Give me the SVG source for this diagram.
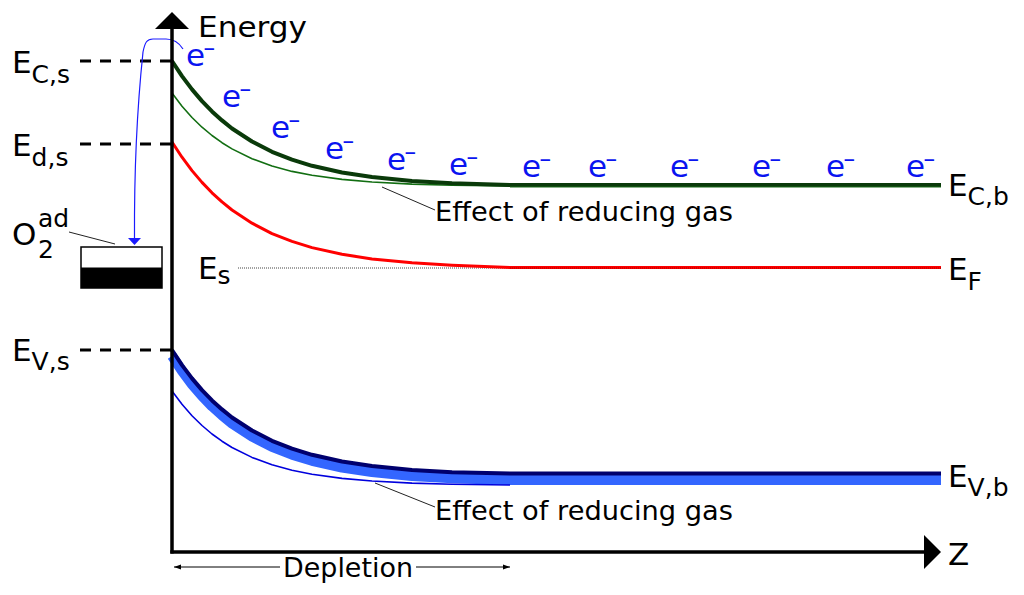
<svg xmlns="http://www.w3.org/2000/svg" width="1024" height="595" viewBox="0 0 1024 595">
<style>
text{font-family:"DejaVu Sans",sans-serif;fill:#000}
.lbl{font-size:31px}
.sub{font-size:25px}
.el{font-size:31px;fill:#0a14f0}
.mi{font-size:15px;font-weight:bold}
.eff{font-size:26.5px}
.dash{stroke:#000;stroke-width:3;stroke-dasharray:11 9;fill:none}
.leader{stroke:#222;stroke-width:1;fill:none}
.curve{fill:none;stroke-linejoin:round;stroke-linecap:butt}
</style>
<defs>
<marker id="sa" markerWidth="8" markerHeight="6" refX="7" refY="3" orient="auto-start-reverse" markerUnits="userSpaceOnUse">
<path d="M0,0.5 L7,3 L0,5.5 Z" fill="#000"/>
</marker>
</defs>
<rect width="1024" height="595" fill="#fff"/>

<g id="bands">
<path id="cb-thin" class="curve" stroke="#126e12" stroke-width="1.6" d="M172,93 L182,106.2 L192,117.5 L202,127.2 L212,135.5 L222,142.7 L232,148.9 L252,158.7 L272,166 L292,171.4 L312,175.3 L342,179.4 L372,182 L412,184.1 L452,185.2 L510,186"/>
<path id="cb" class="curve" stroke="#0a3a0a" stroke-width="4" d="M172,61 L182,76.1 L192,89.4 L202,101.1 L212,111.4 L222,120.4 L232,128.5 L252,141.5 L272,151.8 L292,159.6 L312,165.8 L342,172.5 L372,177 L412,180.9 L452,183.2 L510,185 L941,185"/>
<line x1="510" y1="187" x2="941" y2="187" stroke="#1a6a1a" stroke-width="1"/>
<line id="es-line" x1="238" y1="268" x2="941" y2="268" stroke="#444" stroke-width="1" stroke-dasharray="1 1"/>
<path id="fermi" class="curve" stroke="#ff0000" stroke-width="3" d="M172,142 L182,157.2 L192,170.6 L202,182.4 L212,192.8 L222,201.9 L232,210 L252,223.2 L272,233.6 L292,241.4 L312,247.6 L342,254.3 L372,258.9 L412,262.8 L452,265.2 L510,267.5 L941,267.5"/>
<line x1="510" y1="268" x2="941" y2="268" stroke="#800" stroke-width="0.8" stroke-dasharray="1 1"/>
<path id="vb-band" class="curve" stroke="#3366ff" stroke-width="10" d="M172,356 L182,371.1 L192,384.4 L202,396.1 L212,406.4 L222,415.4 L232,423.5 L252,436.5 L272,446.8 L292,454.6 L312,460.8 L342,467.5 L372,472 L412,475.9 L452,478.2 L510,480 L941,480"/>
<path id="vb" class="curve" stroke="#00006e" stroke-width="4" d="M172,350 L182,365.1 L192,378.4 L202,390.1 L212,400.4 L222,409.4 L232,417.5 L252,430.5 L272,440.8 L292,448.6 L312,454.8 L342,461.5 L372,466 L412,469.9 L452,472.2 L510,473.5 L941,473.5"/>
<path id="vb-thin" class="curve" stroke="#0000dd" stroke-width="1.6" d="M172,391 L182,404.3 L192,415.7 L202,425.5 L212,434 L222,441.2 L232,447.5 L252,457.4 L272,464.8 L292,470.2 L312,474.2 L342,478.4 L372,481 L412,483.1 L452,484.2 L510,485"/>
</g>

<g id="connectors">
<line class="dash" x1="80" y1="61" x2="172" y2="61"/>
<line class="dash" x1="80" y1="144" x2="172" y2="144"/>
<line class="dash" x1="80" y1="350" x2="172" y2="350"/>
<line class="leader" x1="382" y1="187" x2="435" y2="210"/>
<line class="leader" x1="375" y1="483" x2="435" y2="507"/>
<line class="leader" x1="69" y1="232" x2="115" y2="244"/>
<path id="transfer" d="M183,49 C178,41 172,39 166,39 L153,39 C147,39 145,42 143,52 C139,90 134,150 134.5,239" fill="none" stroke="#1a1aff" stroke-width="1.2"/>
<polygon points="128,238 141,238 134.5,245" fill="#1a1aff"/>
<line x1="174" y1="567" x2="280" y2="567" stroke="#000" stroke-width="1" marker-start="url(#sa)"/>
<line x1="416" y1="567" x2="510" y2="567" stroke="#000" stroke-width="1" marker-end="url(#sa)"/>
</g>

<g id="axes">
<line x1="172" y1="553.5" x2="172" y2="27" stroke="#000" stroke-width="3.5"/>
<polygon points="155,29 189,29 172,12" fill="#000"/>
<line x1="170.3" y1="552" x2="926" y2="552" stroke="#000" stroke-width="3.5"/>
<polygon points="924,535 941,552 924,569" fill="#000"/>
<text x="198" y="37" style="font-size:28.5px" textLength="109" lengthAdjust="spacingAndGlyphs">Energy</text>
<text x="948" y="565" class="lbl">Z</text>
</g>

<g id="o2-state">
<rect x="81" y="247" width="81" height="20.5" fill="#fff"/>
<rect x="81" y="267.5" width="81" height="20.5" fill="#000"/>
<rect x="81" y="247" width="81" height="41" fill="none" stroke="#000" stroke-width="1.5"/>
<text x="12" y="245" class="lbl">O</text>
<text x="38" y="227" class="sub">ad</text>
<text x="38" y="258" class="sub">2</text>
</g>

<g id="labels-left">
<text x="12" y="73" class="lbl">E<tspan class="sub" dy="10">C,s</tspan></text>
<text x="12" y="156" class="lbl">E<tspan class="sub" dy="10">d,s</tspan></text>
<text x="12" y="361" class="lbl">E<tspan class="sub" dy="9">V,s</tspan></text>
<text x="198" y="279" class="lbl">E<tspan class="sub" dy="5">s</tspan></text>
</g>

<g id="labels-right">
<text x="948" y="196" class="lbl">E<tspan class="sub" dy="9">C,b</tspan></text>
<text x="948" y="280" class="lbl">E<tspan class="sub" dy="10">F</tspan></text>
<text x="948" y="487" class="lbl">E<tspan class="sub" dy="9">V,b</tspan></text>
</g>

<g id="effect-labels">
<text x="435" y="221" class="eff" textLength="298" lengthAdjust="spacingAndGlyphs">Effect of reducing gas</text>
<text x="435" y="520" class="eff" textLength="298" lengthAdjust="spacingAndGlyphs">Effect of reducing gas</text>
<text x="283" y="577" style="font-size:27px" textLength="130" lengthAdjust="spacingAndGlyphs">Depletion</text>
</g>

<g id="electrons">
<text x="186" y="66" class="el">e<tspan class="mi" dx="-2" dy="-12">−</tspan></text>
<text x="222" y="107" class="el">e<tspan class="mi" dx="-2" dy="-12">−</tspan></text>
<text x="271" y="138" class="el">e<tspan class="mi" dx="-2" dy="-12">−</tspan></text>
<text x="325" y="159" class="el">e<tspan class="mi" dx="-2" dy="-12">−</tspan></text>
<text x="387" y="170" class="el">e<tspan class="mi" dx="-2" dy="-12">−</tspan></text>
<text x="449" y="175" class="el">e<tspan class="mi" dx="-2" dy="-12">−</tspan></text>
<text x="522" y="177" class="el">e<tspan class="mi" dx="-2" dy="-12">−</tspan></text>
<text x="588" y="177" class="el">e<tspan class="mi" dx="-2" dy="-12">−</tspan></text>
<text x="670" y="177" class="el">e<tspan class="mi" dx="-2" dy="-12">−</tspan></text>
<text x="752" y="177" class="el">e<tspan class="mi" dx="-2" dy="-12">−</tspan></text>
<text x="826" y="177" class="el">e<tspan class="mi" dx="-2" dy="-12">−</tspan></text>
<text x="906" y="177" class="el">e<tspan class="mi" dx="-2" dy="-12">−</tspan></text>
</g>
</svg>
